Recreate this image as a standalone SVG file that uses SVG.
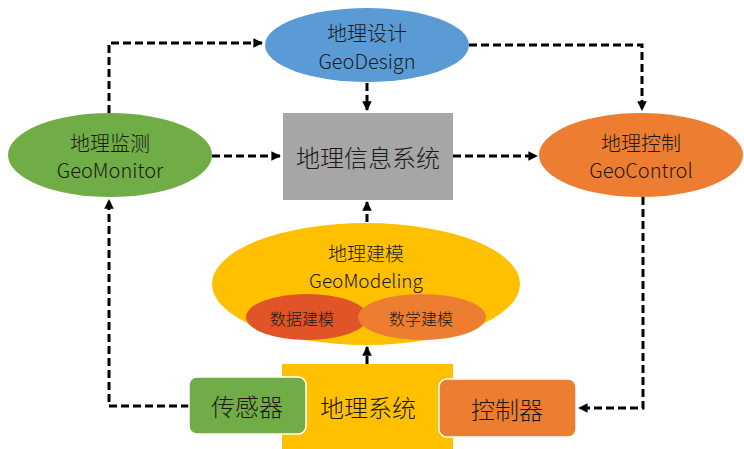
<svg xmlns="http://www.w3.org/2000/svg" width="744" height="449" viewBox="0 0 744 449">
  <defs>
    <marker id="arrow" viewBox="0 0 10 10" refX="9" refY="5" markerWidth="3.2" markerHeight="3.2" orient="auto" markerUnits="strokeWidth">
      <path d="M0,0 L10,5 L0,10 z" fill="#000"/>
    </marker>
    <style>
      text { font-family: "Noto Sans CJK SC", "Noto Sans", sans-serif; font-weight: 300; fill: #1a1a1a; text-anchor: middle; dominant-baseline: central; }
      .t20 { font-size: 20px; }
      .t19 { font-size: 19px; }
      .t24 { font-size: 24px; }
      .t16 { font-size: 16px; }
      .edge { fill: none; stroke: #000; stroke-width: 3; stroke-dasharray: 8 4; marker-end: url(#arrow); }
      .box { stroke: #fff; stroke-width: 1.5; }
    </style>
  </defs>
  <rect width="744" height="449" fill="#fff"/>

  <g id="connectors">
    <path class="edge" d="M109,113 V43 H262"/>
    <path class="edge" d="M469,45 H642 V110"/>
    <path class="edge" d="M367,83 V110"/>
    <path class="edge" d="M212,156 H280"/>
    <path class="edge" d="M453,156 H537"/>
    <path class="edge" d="M367,222 V202"/>
    <path class="edge" d="M367,364 V347"/>
    <path class="edge" d="M189,406 H109 V200"/>
    <path class="edge" d="M643,197 V408 H579"/>
  </g>

  <g id="geodesign">
    <ellipse cx="367" cy="45" rx="102" ry="37" fill="#5B9BD5"/>
    <text class="t20" x="367" y="32">地理设计</text>
    <text class="t20" x="367" y="60">GeoDesign</text>
  </g>

  <g id="gis">
    <rect x="283" y="113" width="170" height="87" fill="#A6A6A6"/>
    <text class="t24" x="368" y="156">地理信息系统</text>
  </g>

  <g id="geomonitor">
    <ellipse cx="110" cy="155" rx="102" ry="42" fill="#70AD47"/>
    <text class="t20" x="110" y="142">地理监测</text>
    <text class="t20" x="110" y="169">GeoMonitor</text>
  </g>

  <g id="geocontrol">
    <ellipse cx="641" cy="155" rx="102" ry="42" fill="#ED7D31"/>
    <text class="t20" x="641" y="142">地理控制</text>
    <text class="t20" x="641" y="169">GeoControl</text>
  </g>

  <g id="geomodeling">
    <ellipse cx="366" cy="284" rx="154" ry="61" fill="#FFC000"/>
    <text class="t19" x="366" y="252">地理建模</text>
    <text class="t19" x="366" y="279">GeoModeling</text>
  </g>

  <g id="data-modeling">
    <ellipse cx="307" cy="317" rx="61" ry="23" fill="#E05427"/>
    <text class="t16" x="302" y="318">数据建模</text>
  </g>

  <g id="math-modeling">
    <ellipse cx="422" cy="317" rx="64" ry="23" fill="#ED7D31"/>
    <text class="t16" x="421" y="318">数学建模</text>
  </g>

  <g id="geosystem">
    <rect x="282" y="364" width="171" height="90" fill="#FFC000"/>
    <text class="t24" x="368" y="406">地理系统</text>
  </g>

  <g id="sensor">
    <rect class="box" x="189" y="377" width="117" height="57" rx="8" fill="#70AD47"/>
    <text class="t24" x="247" y="405">传感器</text>
  </g>

  <g id="controller">
    <rect class="box" x="439" y="379" width="137" height="58" rx="8" fill="#ED7D31"/>
    <text class="t24" x="507" y="408">控制器</text>
  </g>
</svg>
